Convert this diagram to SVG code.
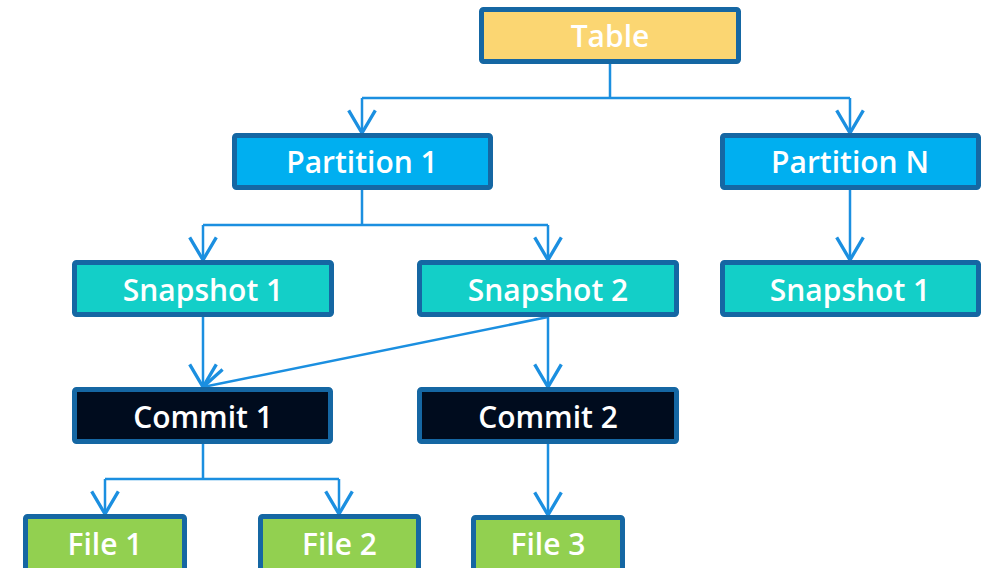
<svg xmlns="http://www.w3.org/2000/svg" width="992" height="568" viewBox="0 0 992 568">
  <style>
    .box { stroke: #1567a3; stroke-width: 5; }
    .table { fill: #fbd672; }
    .part { fill: #00aff0; }
    .snap { fill: #13cfc8; }
    .commit { fill: #000c1e; }
    .file { fill: #92d050; }
    .lbl { fill: #ffffff; font-family: "Open Sans", "Noto Sans", "DejaVu Sans", sans-serif; font-weight: 600; font-size: 30px; text-anchor: middle; }
    .wire { fill: none; stroke: #1b8fe0; stroke-width: 2.5; }
    .arrow { marker-end: url(#open); }
  </style>
  <defs>
    <marker id="open" markerUnits="userSpaceOnUse" markerWidth="40" markerHeight="40" viewBox="-20 -15 25 30" refX="0" refY="0" orient="auto" overflow="visible">
      <path d="M-17,-10 L0,0 L-17,10" fill="none" stroke="#1b8fe0" stroke-width="2.5"/>
    </marker>
  </defs>

  <!-- connectors -->
  <g id="connectors">
    <path class="wire" d="M610,64 V98 M362,98 H850"/>
    <path class="wire arrow" d="M362,98 V133"/>
    <path class="wire arrow" d="M850,98 V133"/>

    <path class="wire" d="M362,190 V225 M203,225 H548"/>
    <path class="wire arrow" d="M203,225 V260"/>
    <path class="wire arrow" d="M548,225 V260"/>

    <path class="wire arrow" d="M850,190 V260"/>

    <path class="wire arrow" d="M203,317 V387"/>
    <path class="wire arrow" d="M548,317 L203,387"/>
    <path class="wire arrow" d="M548,317 V387"/>

    <path class="wire" d="M203,444 V479 M105,479 H339"/>
    <path class="wire arrow" d="M105,479 V514"/>
    <path class="wire arrow" d="M339,479 V514"/>

    <path class="wire arrow" d="M548,444 V515"/>
  </g>

  <g id="table">
    <rect class="box table" x="481.5" y="9.5" width="257" height="52" rx="2"/>
    <text class="lbl" x="610" y="47">Table</text>
  </g>

  <g id="partition-1">
    <rect class="box part" x="234.5" y="135.5" width="256" height="52" rx="2"/>
    <text class="lbl" x="362" y="173">Partition 1</text>
  </g>
  <g id="partition-n">
    <rect class="box part" x="722.5" y="135.5" width="256" height="52" rx="2"/>
    <text class="lbl" x="850" y="173">Partition N</text>
  </g>

  <g id="snapshot-1">
    <rect class="box snap" x="74.5" y="262.5" width="257" height="52" rx="2"/>
    <text class="lbl" x="203" y="300.5">Snapshot 1</text>
  </g>
  <g id="snapshot-2">
    <rect class="box snap" x="419.5" y="262.5" width="257" height="52" rx="2"/>
    <text class="lbl" x="548" y="300.5">Snapshot 2</text>
  </g>
  <g id="snapshot-n1">
    <rect class="box snap" x="722.5" y="262.5" width="256" height="52" rx="2"/>
    <text class="lbl" x="850" y="300.5">Snapshot 1</text>
  </g>

  <g id="commit-1">
    <rect class="box commit" x="74.5" y="389.5" width="256" height="52" rx="2"/>
    <text class="lbl" x="203" y="427.5">Commit 1</text>
  </g>
  <g id="commit-2">
    <rect class="box commit" x="419.5" y="389.5" width="257" height="52" rx="2"/>
    <text class="lbl" x="548" y="427.5">Commit 2</text>
  </g>

  <g id="file-1">
    <rect class="box file" x="25.5" y="516.5" width="159" height="60" rx="2"/>
    <text class="lbl" x="105" y="554.5">File 1</text>
  </g>
  <g id="file-2">
    <rect class="box file" x="260.5" y="516.5" width="158" height="60" rx="2"/>
    <text class="lbl" x="339.5" y="554.5">File 2</text>
  </g>
  <g id="file-3">
    <rect class="box file" x="473.5" y="517.5" width="149" height="60" rx="2"/>
    <text class="lbl" x="548" y="554.5">File 3</text>
  </g>
</svg>
